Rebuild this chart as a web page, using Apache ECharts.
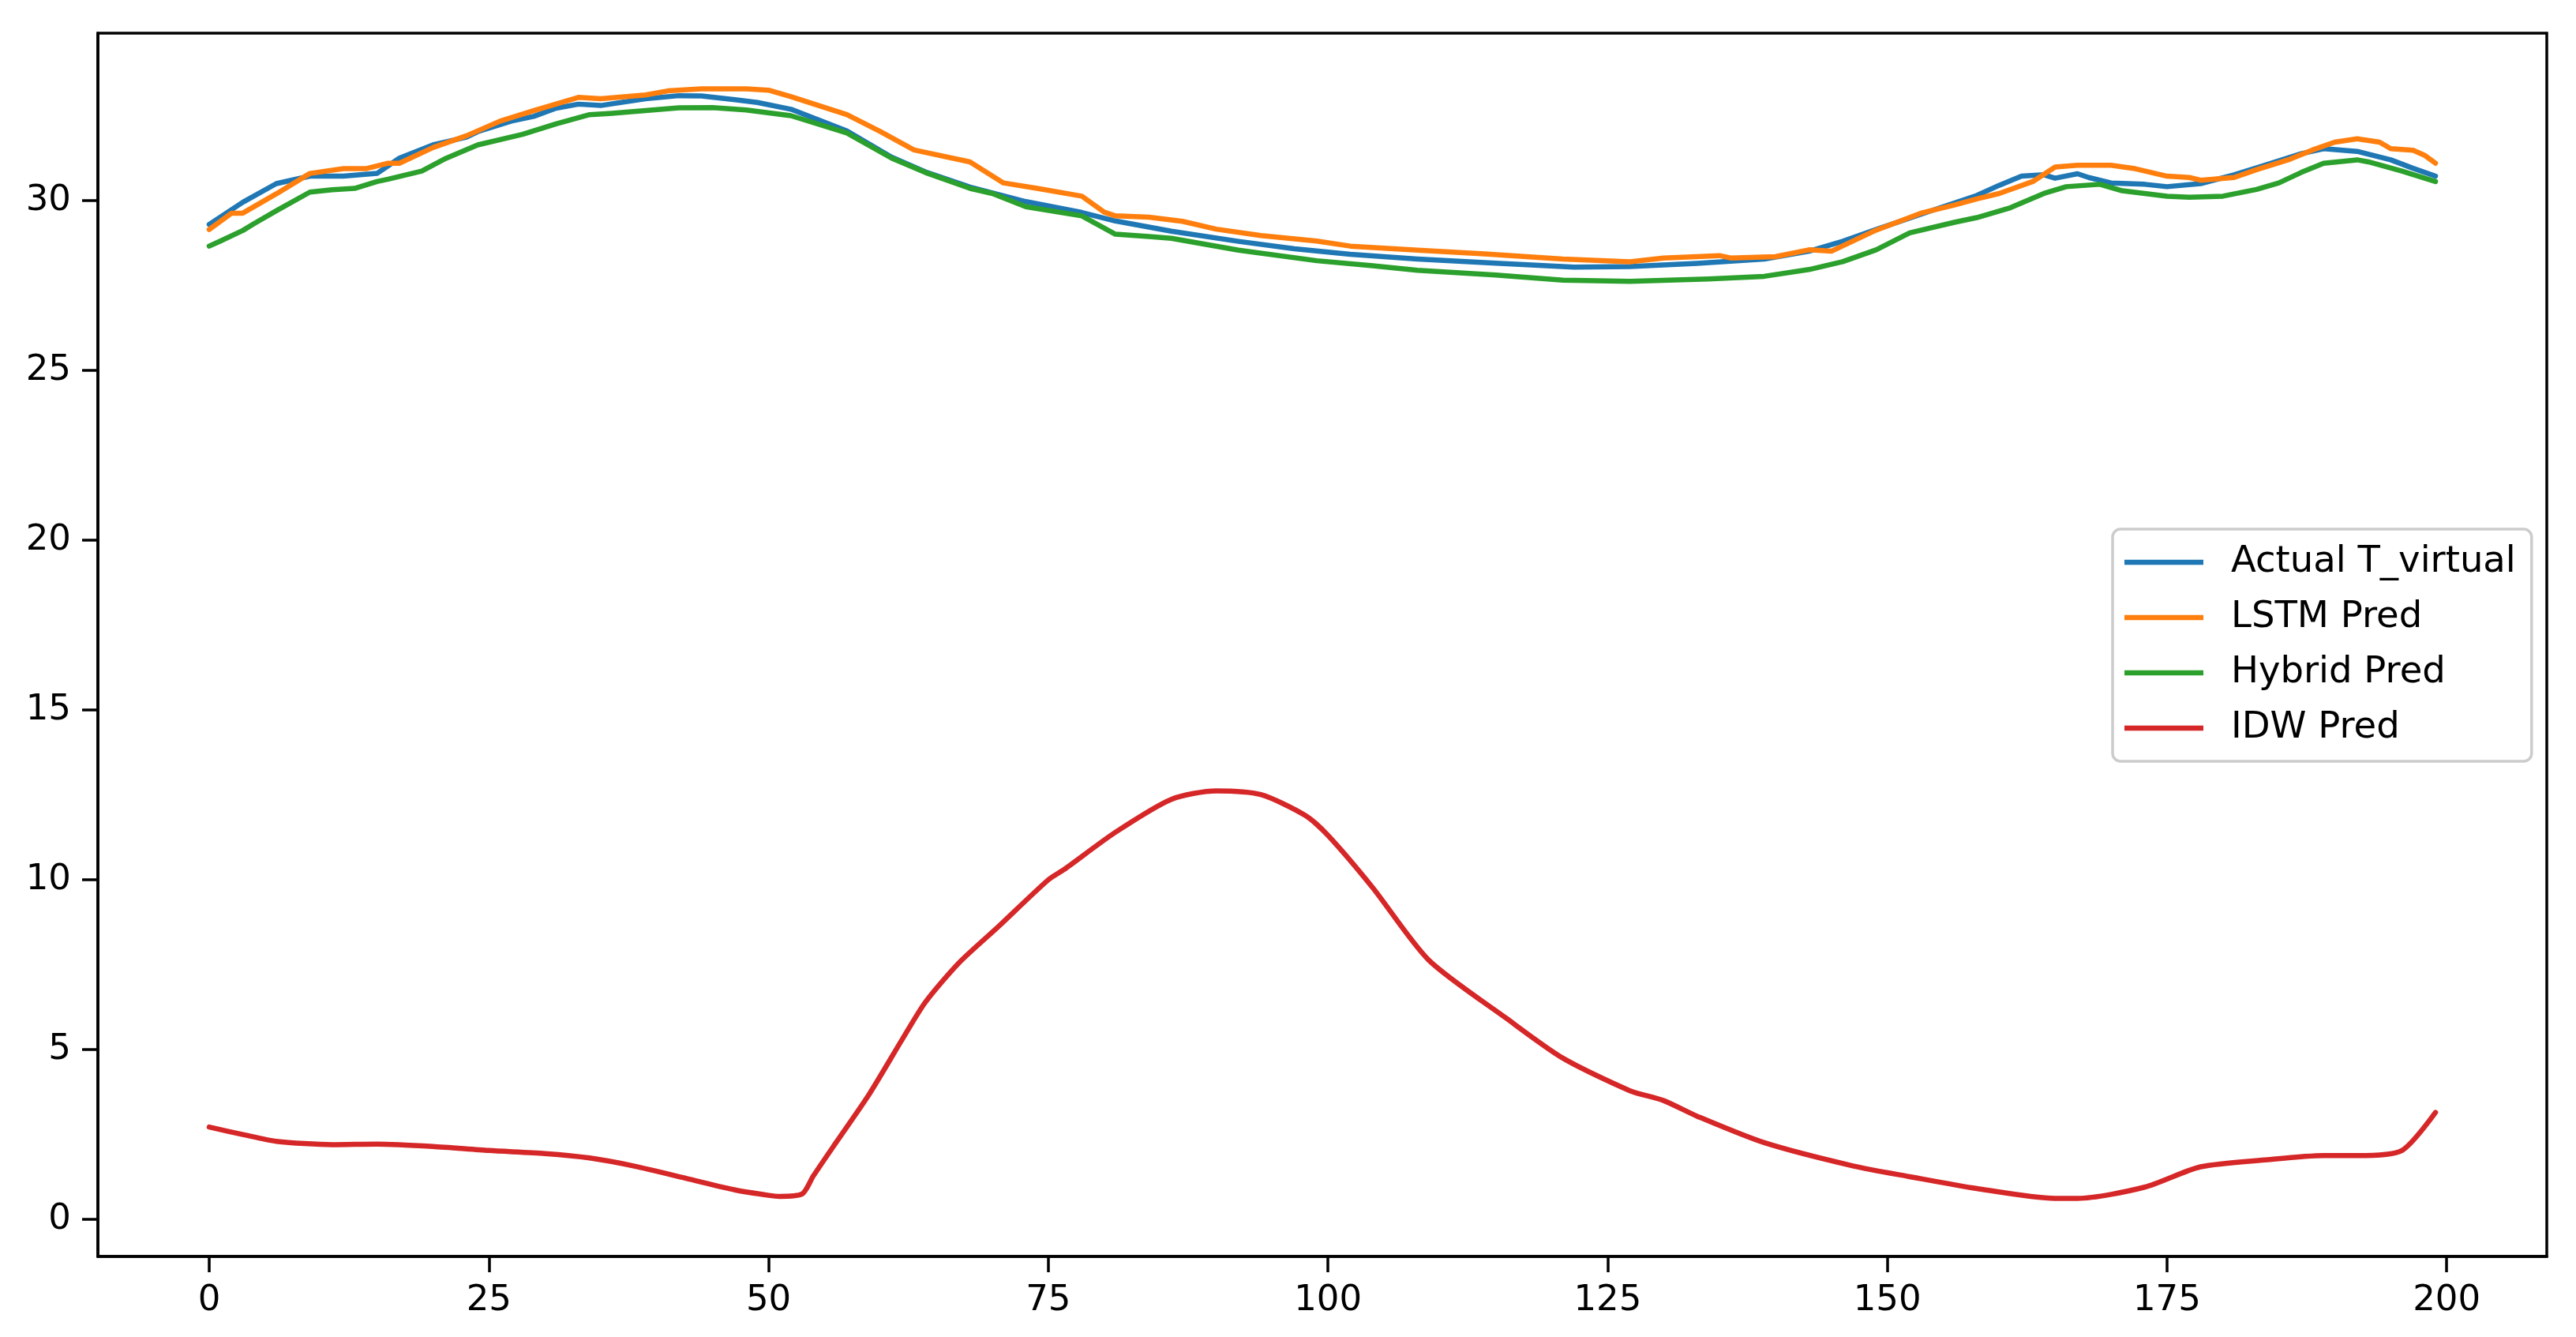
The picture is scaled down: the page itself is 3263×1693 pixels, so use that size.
<!DOCTYPE html>
<html>
<head>
    <meta charset="utf-8">
    <title>T_virtual prediction</title>
    <script src="https://cdn.jsdelivr.net/npm/echarts@6.0.0/dist/echarts.min.js"></script>
    <style>
        html, body { margin: 0; padding: 0; background: #fff; }
        #chart1 { width: 3263px; height: 1693px; }
    </style>
</head>
<body>
<div id="chart1"></div>
<script type="text/javascript">
    // values: [time step, temperature]
    var actualPts = [[0,29.3],[3,29.95],[6,30.5],[9,30.72],[12,30.72],[15,30.8],[17,31.25],[20,31.64],[23,31.87],[24,32.03],
        [27,32.34],[29,32.48],[31,32.72],[33,32.84],[35,32.8],[39,33.0],[42,33.09],[44,33.08],[47,32.97],[49,32.89],
        [52,32.69],[57,32.05],[61,31.28],[64,30.85],[68,30.4],[73,29.97],[78,29.65],[81,29.4],[86,29.1],[92,28.8],
        [97,28.58],[102,28.42],[108,28.28],[115,28.16],[122,28.04],[127,28.06],[133,28.15],[139,28.28],[143,28.51],[146,28.8],
        [149,29.15],[154,29.71],[158,30.15],[160,30.45],[162,30.72],[164,30.76],[165,30.66],[167,30.79],[168,30.68],[170,30.52],
        [173,30.48],[175,30.41],[178,30.5],[181,30.76],[184,31.07],[187,31.38],[189,31.53],[192,31.45],[195,31.2],[197,30.95],[199,30.72]];

    var lstmPts = [[0,29.15],[2,29.63],[3,29.63],[6,30.2],[9,30.8],[12,30.94],[14,30.94],[16,31.1],[17,31.1],[20,31.56],
        [23,31.91],[26,32.34],[29,32.65],[33,33.04],[35,33.0],[39,33.11],[41,33.23],[44,33.29],[48,33.29],[50,33.25],
        [52,33.06],[57,32.53],[60,32.03],[63,31.49],[68,31.14],[71,30.52],[74,30.36],[78,30.13],[80,29.66],[81,29.55],
        [84,29.51],[87,29.39],[90,29.16],[94,28.97],[99,28.81],[102,28.66],[108,28.54],[114,28.43],[121,28.28],[127,28.2],
        [130,28.31],[135,28.38],[136,28.31],[140,28.35],[143,28.55],[145,28.51],[149,29.13],[153,29.63],[156,29.87],[158,30.05],
        [160,30.21],[163,30.56],[165,30.99],[167,31.04],[170,31.04],[172,30.95],[175,30.72],[177,30.68],[178,30.6],[181,30.68],
        [183,30.91],[186,31.22],[188,31.49],[190,31.72],[192,31.82],[194,31.72],[195,31.53],[197,31.48],[198,31.34],[199,31.1]];

    var hybridPts = [[0,28.66],[1,28.81],[3,29.12],[4,29.32],[6,29.7],[9,30.25],[11,30.32],[13,30.36],[15,30.56],[16,30.63],
        [19,30.87],[21,31.22],[24,31.64],[28,31.95],[31,32.26],[34,32.53],[36,32.57],[39,32.65],[42,32.73],[45,32.74],
        [48,32.67],[52,32.5],[57,31.99],[61,31.25],[64,30.83],[68,30.36],[70,30.21],[73,29.82],[78,29.55],[81,29.01],
        [84,28.94],[86,28.89],[92,28.54],[99,28.23],[104,28.08],[108,27.95],[115,27.81],[121,27.66],[127,27.62],[134,27.69],
        [139,27.77],[143,27.97],[146,28.2],[149,28.55],[152,29.05],[156,29.36],[158,29.5],[161,29.79],[164,30.21],[166,30.41],
        [169,30.48],[171,30.29],[175,30.13],[177,30.1],[180,30.13],[183,30.33],[185,30.52],[187,30.83],[189,31.1],[192,31.2],
        [193,31.14],[196,30.87],[199,30.56]];

    var idwPts = [[0,2.72],[3,2.5],[6,2.3],[11,2.2],[15,2.22],[20,2.15],[25,2.03],[30,1.94],[34,1.81],[38,1.57],
        [43,1.18],[47,0.87],[50,0.71],[51,0.68],[53,0.75],[54,1.28],[56,2.25],[59,3.69],[62,5.33],[64,6.39],
        [67,7.55],[70.5,8.61],[75,10.0],[76.4,10.3],[81,11.4],[86,12.37],[90,12.62],[94,12.51],[98,11.89],[100,11.31],
        [104,9.77],[109,7.64],[116,5.91],[121,4.75],[127,3.79],[130,3.5],[133,3.04],[139,2.26],[147,1.57],[152,1.26],
        [158,0.91],[165,0.62],[167,0.62],[173,0.95],[178,1.55],[184,1.76],[189,1.88],[192,1.88],[196,2.03],[199,3.15]];

    var seriesNames = ['Actual T_virtual', 'LSTM Pred', 'Hybrid Pred', 'IDW Pred'];
    var seriesColors = ['#1f77b4', '#ff7f0e', '#2ca02c', '#d62728'];
    var xTicks = [0, 25, 50, 75, 100, 125, 150, 175, 200];
    var yTicks = [0, 5, 10, 15, 20, 25, 30];

    var font = 'DejaVu Sans';
    var myChart1 = echarts.init(document.getElementById('chart1'));

    var allPts = [actualPts, lstmPts, hybridPts, idwPts];
    var series = [];
    for (var i = 0; i < allPts.length; i++) {
        series.push({
            name: seriesNames[i],
            type: 'line',
            data: allPts[i],
            symbol: 'none',
            showSymbol: false,
            color: seriesColors[i],
            // the IDW curve is smooth in the original, the others are jagged
            smooth: i === 3 ? 0.25 : false,
            lineStyle: { color: seriesColors[i], width: 6.5, join: 'round', cap: 'round' }
        });
    }

    myChart1.setOption({
        animation: false,
        backgroundColor: '#fff',
        grid: {
            left: 124, right: 37, top: 42, bottom: 102,
            show: true, borderColor: '#000', borderWidth: 3.5, backgroundColor: 'transparent'
        },
        legend: {
            orient: 'vertical',
            left: 2676,
            top: 670,
            data: seriesNames,
            icon: 'rect',
            itemWidth: 100,
            itemHeight: 6.5,
            itemGap: 20,
            padding: [17, 20, 17, 15],
            backgroundColor: '#fff',
            borderColor: '#cccccc',
            borderWidth: 3.5,
            borderRadius: 10,
            textStyle: {
                fontFamily: font, fontSize: 46.5, color: '#000',
                lineHeight: 50, padding: [0, 0, 0, 30]
            }
        },
        xAxis: {
            type: 'value',
            min: -9.95,
            max: 208.95,
            axisLine: { show: true, onZero: false, lineStyle: { color: '#000', width: 3.5 } },
            splitLine: { show: false },
            axisTick: { show: true, customValues: xTicks, length: 20, lineStyle: { color: '#000', width: 3.5 } },
            axisLabel: { customValues: xTicks, fontFamily: font, fontSize: 45, color: '#000', margin: 34 }
        },
        yAxis: {
            type: 'value',
            min: -1.09,
            max: 34.93,
            axisLine: { show: true, onZero: false, lineStyle: { color: '#000', width: 3.5 } },
            splitLine: { show: false },
            axisTick: { show: true, customValues: yTicks, length: 20, lineStyle: { color: '#000', width: 3.5 } },
            axisLabel: { customValues: yTicks, fontFamily: font, fontSize: 45, color: '#000', margin: 34 }
        },
        series: series
    });
</script>
</body>
</html>
